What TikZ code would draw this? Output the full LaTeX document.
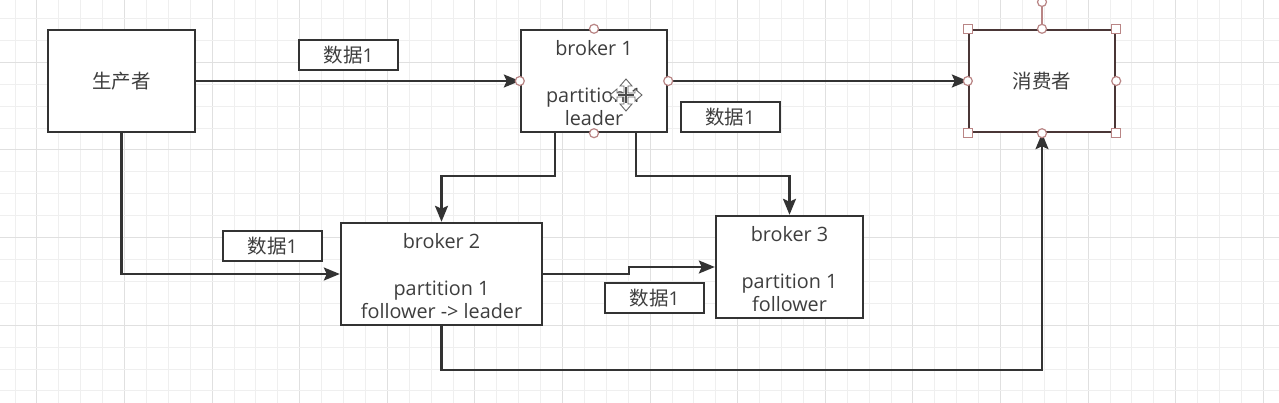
\documentclass[tikz,border=0pt]{standalone}
\usepackage{fontspec}
\setmainfont{Open Sans}
\newfontfamily\cjk{Noto Sans CJK SC}
\usetikzlibrary{arrows.meta}
\definecolor{linec}{HTML}{333333}
\definecolor{textc}{HTML}{3E3E3E}
\definecolor{gridminor}{HTML}{EFEFEF}
\definecolor{gridmajor}{HTML}{E0E0E0}
\definecolor{handlec}{HTML}{B98585}
\definecolor{selc}{HTML}{4A3636}
\tikzset{
  box/.style={draw=linec, line width=2.4pt, fill=white, rectangle, inner sep=0pt,
    text=textc, font=\fontsize{19.8}{23.3}\selectfont, align=center},
  tag/.style={draw=linec, line width=2pt, fill=white, rectangle, inner sep=0pt,
    minimum width=99pt, minimum height=30pt, text=textc, font=\fontsize{19}{20}\selectfont},
  conn/.style={draw=linec, line width=2.4pt, -{Stealth[length=16pt,width=13pt,inset=3pt]}},
  hcirc/.style={circle, draw=handlec, line width=1.2pt, fill=white, minimum size=9pt, inner sep=0pt},
  hsq/.style={rectangle, draw=handlec, line width=1.2pt, fill=white, minimum size=9pt, inner sep=0pt},
}
\newcommand{\zh}[1]{{\cjk\fontsize{19.5}{23.3}\selectfont #1}}
\begin{document}
\begin{tikzpicture}[x=1pt,y=-1pt]
\useasboundingbox (0,0) rectangle (1279,403);
\fill[white] (0,0) rectangle (1279,403);
% grid
\foreach \k in {0,...,57}{
  \pgfmathsetmacro{\gx}{15+21.9*\k}
  \pgfmathtruncatemacro{\m}{mod(\k,4)}
  \ifnum\m=1
    \draw[gridmajor, line width=1pt] (\gx,0) -- (\gx,403);
  \else
    \draw[gridminor, line width=1pt] (\gx,0) -- (\gx,403);
  \fi
}
\foreach \k in {0,...,17}{
  \pgfmathsetmacro{\gy}{18.6+21.9*\k}
  \pgfmathtruncatemacro{\m}{mod(\k,4)}
  \ifnum\m=2
    \draw[gridmajor, line width=1pt] (0,\gy) -- (1279,\gy);
  \else
    \draw[gridminor, line width=1pt] (0,\gy) -- (1279,\gy);
  \fi
}
% boxes
\node[box, minimum width=147pt, minimum height=102pt] (prod) at (121.5,81) {\zh{生产者}};
\node[box, minimum width=146pt, minimum height=102pt] (b1) at (594,81) {};
\node[box, draw=selc, minimum width=146pt, minimum height=102pt] (cons) at (1042,81) {\zh{消费者}};
\node[box, minimum width=201pt, minimum height=102pt] (b2) at (441.5,274) {};
\node[box, minimum width=147pt, minimum height=102pt] (b3) at (789.5,267) {};
% box texts
\node[box, draw=none, fill=none, anchor=center] (b1txt) at ([yshift=-2pt]b1.center) {broker 1\\\mbox{}\\partition 1\\leader};
\node[box, draw=none, fill=none, anchor=center] (b2txt) at ([yshift=-2pt]b2.center) {broker 2\\\mbox{}\\partition 1\\follower -> leader};
\node[box, draw=none, fill=none, anchor=center] (b3txt) at ([yshift=-2pt]b3.center) {broker 3\\\mbox{}\\partition 1\\follower};
% tags
\node[tag] (t1) at (348.5,55) {\zh{数据}1};
\node[tag] (t2) at (730,117.5) {\zh{数据}1};
\node[tag] (t3) at (272.5,246) {\zh{数据}1};
\node[tag] (t4) at (654.5,298) {\zh{数据}1};
% connectors
\draw[conn] (prod.east) -- (b1.west);
\draw[conn] (b1.east) -- (cons.west);
\draw[conn] (prod.south) |- (b2.west);
\draw[conn] ([xshift=-39pt]b1.south) -- ++(0,43) -| (b2.north);
\draw[conn] ([xshift=42pt]b1.south) -- ++(0,43) -| (b3.north);
\draw[conn] (b2.east) -- ++(86,0) |- (b3.west);
\draw[conn] (b2.south) -- ++(0,44) -| (cons.south);
% handles of broker 1
\node[hcirc] (b1n) at (b1.north) {};
\node[hcirc] (b1s) at (b1.south) {};
\node[hcirc] (b1w) at (b1.west) {};
\node[hcirc] (b1e) at (b1.east) {};
% selection handles of consumer
\coordinate (rot) at (1042,2);
\draw[handlec, line width=1.2pt] (cons.north) -- (rot);
\node[hcirc] (consr) at (rot) {};
\node[hcirc] (consn) at (cons.north) {};
\node[hcirc] (conss) at (cons.south) {};
\node[hcirc] (consw) at (cons.west) {};
\node[hcirc] (conse) at (cons.east) {};
\node[hsq] (consnw) at (cons.north west) {};
\node[hsq] (consne) at (cons.north east) {};
\node[hsq] (conssw) at (cons.south west) {};
\node[hsq] (consse) at (cons.south east) {};
% move cursor
\begin{scope}[shift={(626,95)}]
\filldraw[fill=white, draw=gray!80!black, line width=0.9pt]
  (0,-16) -- (6,-9) -- (2,-9) -- (2,-2) -- (9,-2) -- (9,-6) -- (16,0) -- (9,6) -- (9,2)
  -- (2,2) -- (2,9) -- (6,9) -- (0,16) -- (-6,9) -- (-2,9) -- (-2,2) -- (-9,2) -- (-9,6)
  -- (-16,0) -- (-9,-6) -- (-9,-2) -- (-2,-2) -- (-2,-9) -- (-6,-9) -- cycle;
\draw[gray!60!black, line width=1.2pt] (0,-8) -- (0,8) (-8,0) -- (8,0);
\end{scope}
\end{tikzpicture}
\end{document}
